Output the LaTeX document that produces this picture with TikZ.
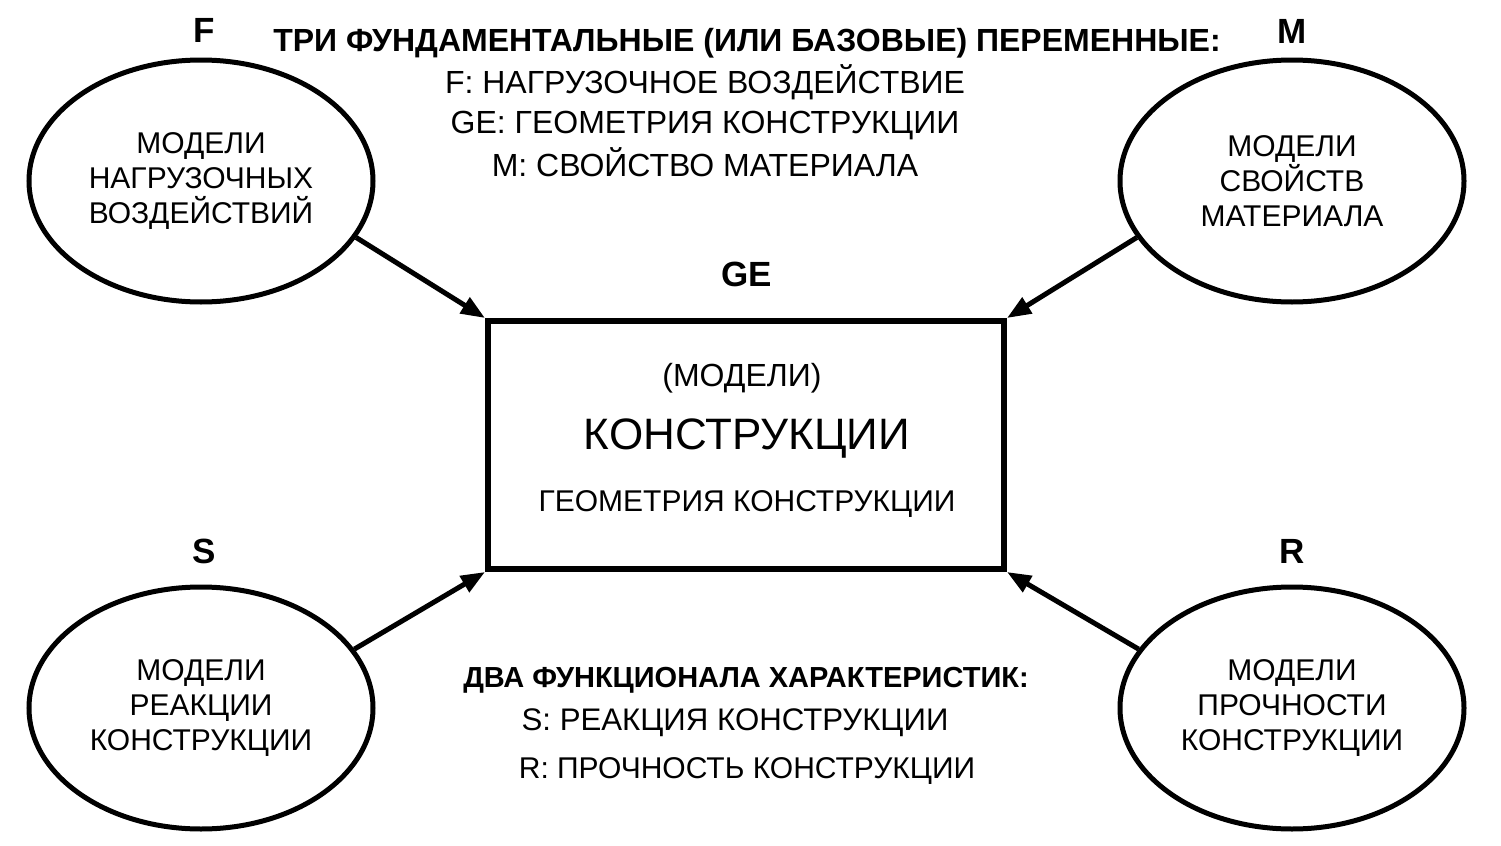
\documentclass[tikz,border=0pt]{standalone}
\usepackage{fontspec}
\setmainfont{Liberation Sans}
\usetikzlibrary{arrows.meta,shapes.geometric}
\begin{document}
\begin{tikzpicture}[x=0.5pt,y=-0.5pt,
  model/.style={ellipse,draw,line width=2.5pt,minimum width=172pt,minimum height=121pt,inner sep=0pt,align=center,font=\fontsize{15pt}{17.5pt}\selectfont},
  lbl/.style={font=\fontsize{17.5pt}{20pt}\selectfont\bfseries,anchor=base,inner sep=0pt},
  txt/.style={font=\fontsize{15pt}{18pt}\selectfont,anchor=base,inner sep=0pt},
  bigtxt/.style={font=\fontsize{16pt}{18pt}\selectfont,anchor=base,inner sep=0pt},
  headtxt/.style={font=\fontsize{14.5pt}{18pt}\selectfont\bfseries,anchor=base,inner sep=0pt},
  arr/.style={line width=2.5pt,-{Triangle[length=12pt,width=9pt]}}
]
\fill[white] (0,0) rectangle (1501,846);
\useasboundingbox (0,0) rectangle (1501,846);

% ellipses
\node[model] (tl) at (201,181) {МОДЕЛИ\\НАГРУЗОЧНЫХ\\ВОЗДЕЙСТВИЙ};
\node[model] (tr) at (1292,181) {МОДЕЛИ\\СВОЙСТВ\\МАТЕРИАЛА};
\node[model] (bl) at (201,708) {МОДЕЛИ\\РЕАКЦИИ\\КОНСТРУКЦИИ};
\node[model] (br) at (1292,708) {МОДЕЛИ\\ПРОЧНОСТИ\\КОНСТРУКЦИИ};

% central rectangle
\node[draw,line width=3pt,minimum width=258pt,minimum height=124pt,inner sep=0pt] (rect) at (746,445) {};
\node[bigtxt] (r1) at (742,386) {(МОДЕЛИ)};
\node[txt,font=\fontsize{22pt}{26pt}\selectfont] (r2) at (747,449) {КОНСТРУКЦИИ};
\node[txt] (r3) at (747,511) {ГЕОМЕТРИЯ КОНСТРУКЦИИ};

% labels
\node[lbl] (lF) at (204,42) {F};
\node[lbl] (lM) at (1292,43) {M};
\node[lbl] (lS) at (204,563) {S};
\node[lbl] (lR) at (1292,563) {R};
\node[lbl] (lGE) at (747,286) {GE};

% top text
\node[headtxt,font=\fontsize{16pt}{18pt}\selectfont\bfseries] (t0) at (747,51) {ТРИ ФУНДАМЕНТАЛЬНЫЕ (ИЛИ БАЗОВЫЕ) ПЕРЕМЕННЫЕ:};
\node[bigtxt] (t1) at (705,93) {F: НАГРУЗОЧНОЕ ВОЗДЕЙСТВИЕ};
\node[bigtxt] (t2) at (705,133) {GE: ГЕОМЕТРИЯ КОНСТРУКЦИИ};
\node[bigtxt] (t3) at (705,176) {M: СВОЙСТВО МАТЕРИАЛА};

% bottom text
\node[headtxt] (b0) at (746,687) {ДВА ФУНКЦИОНАЛА ХАРАКТЕРИСТИК:};
\node[txt,font=\fontsize{15.6pt}{18pt}\selectfont] (b1) at (735,730) {S: РЕАКЦИЯ КОНСТРУКЦИИ};
\node[txt] (b2) at (747,778) {R: ПРОЧНОСТЬ КОНСТРУКЦИИ};

% arrows
\draw[arr] (tl.-20) -- (rect.north west);
\draw[arr] (tr.200) -- (rect.north east);
\draw[arr] (bl.21) -- (rect.south west);
\draw[arr] (br.159) -- (rect.south east);
\end{tikzpicture}
\end{document}
